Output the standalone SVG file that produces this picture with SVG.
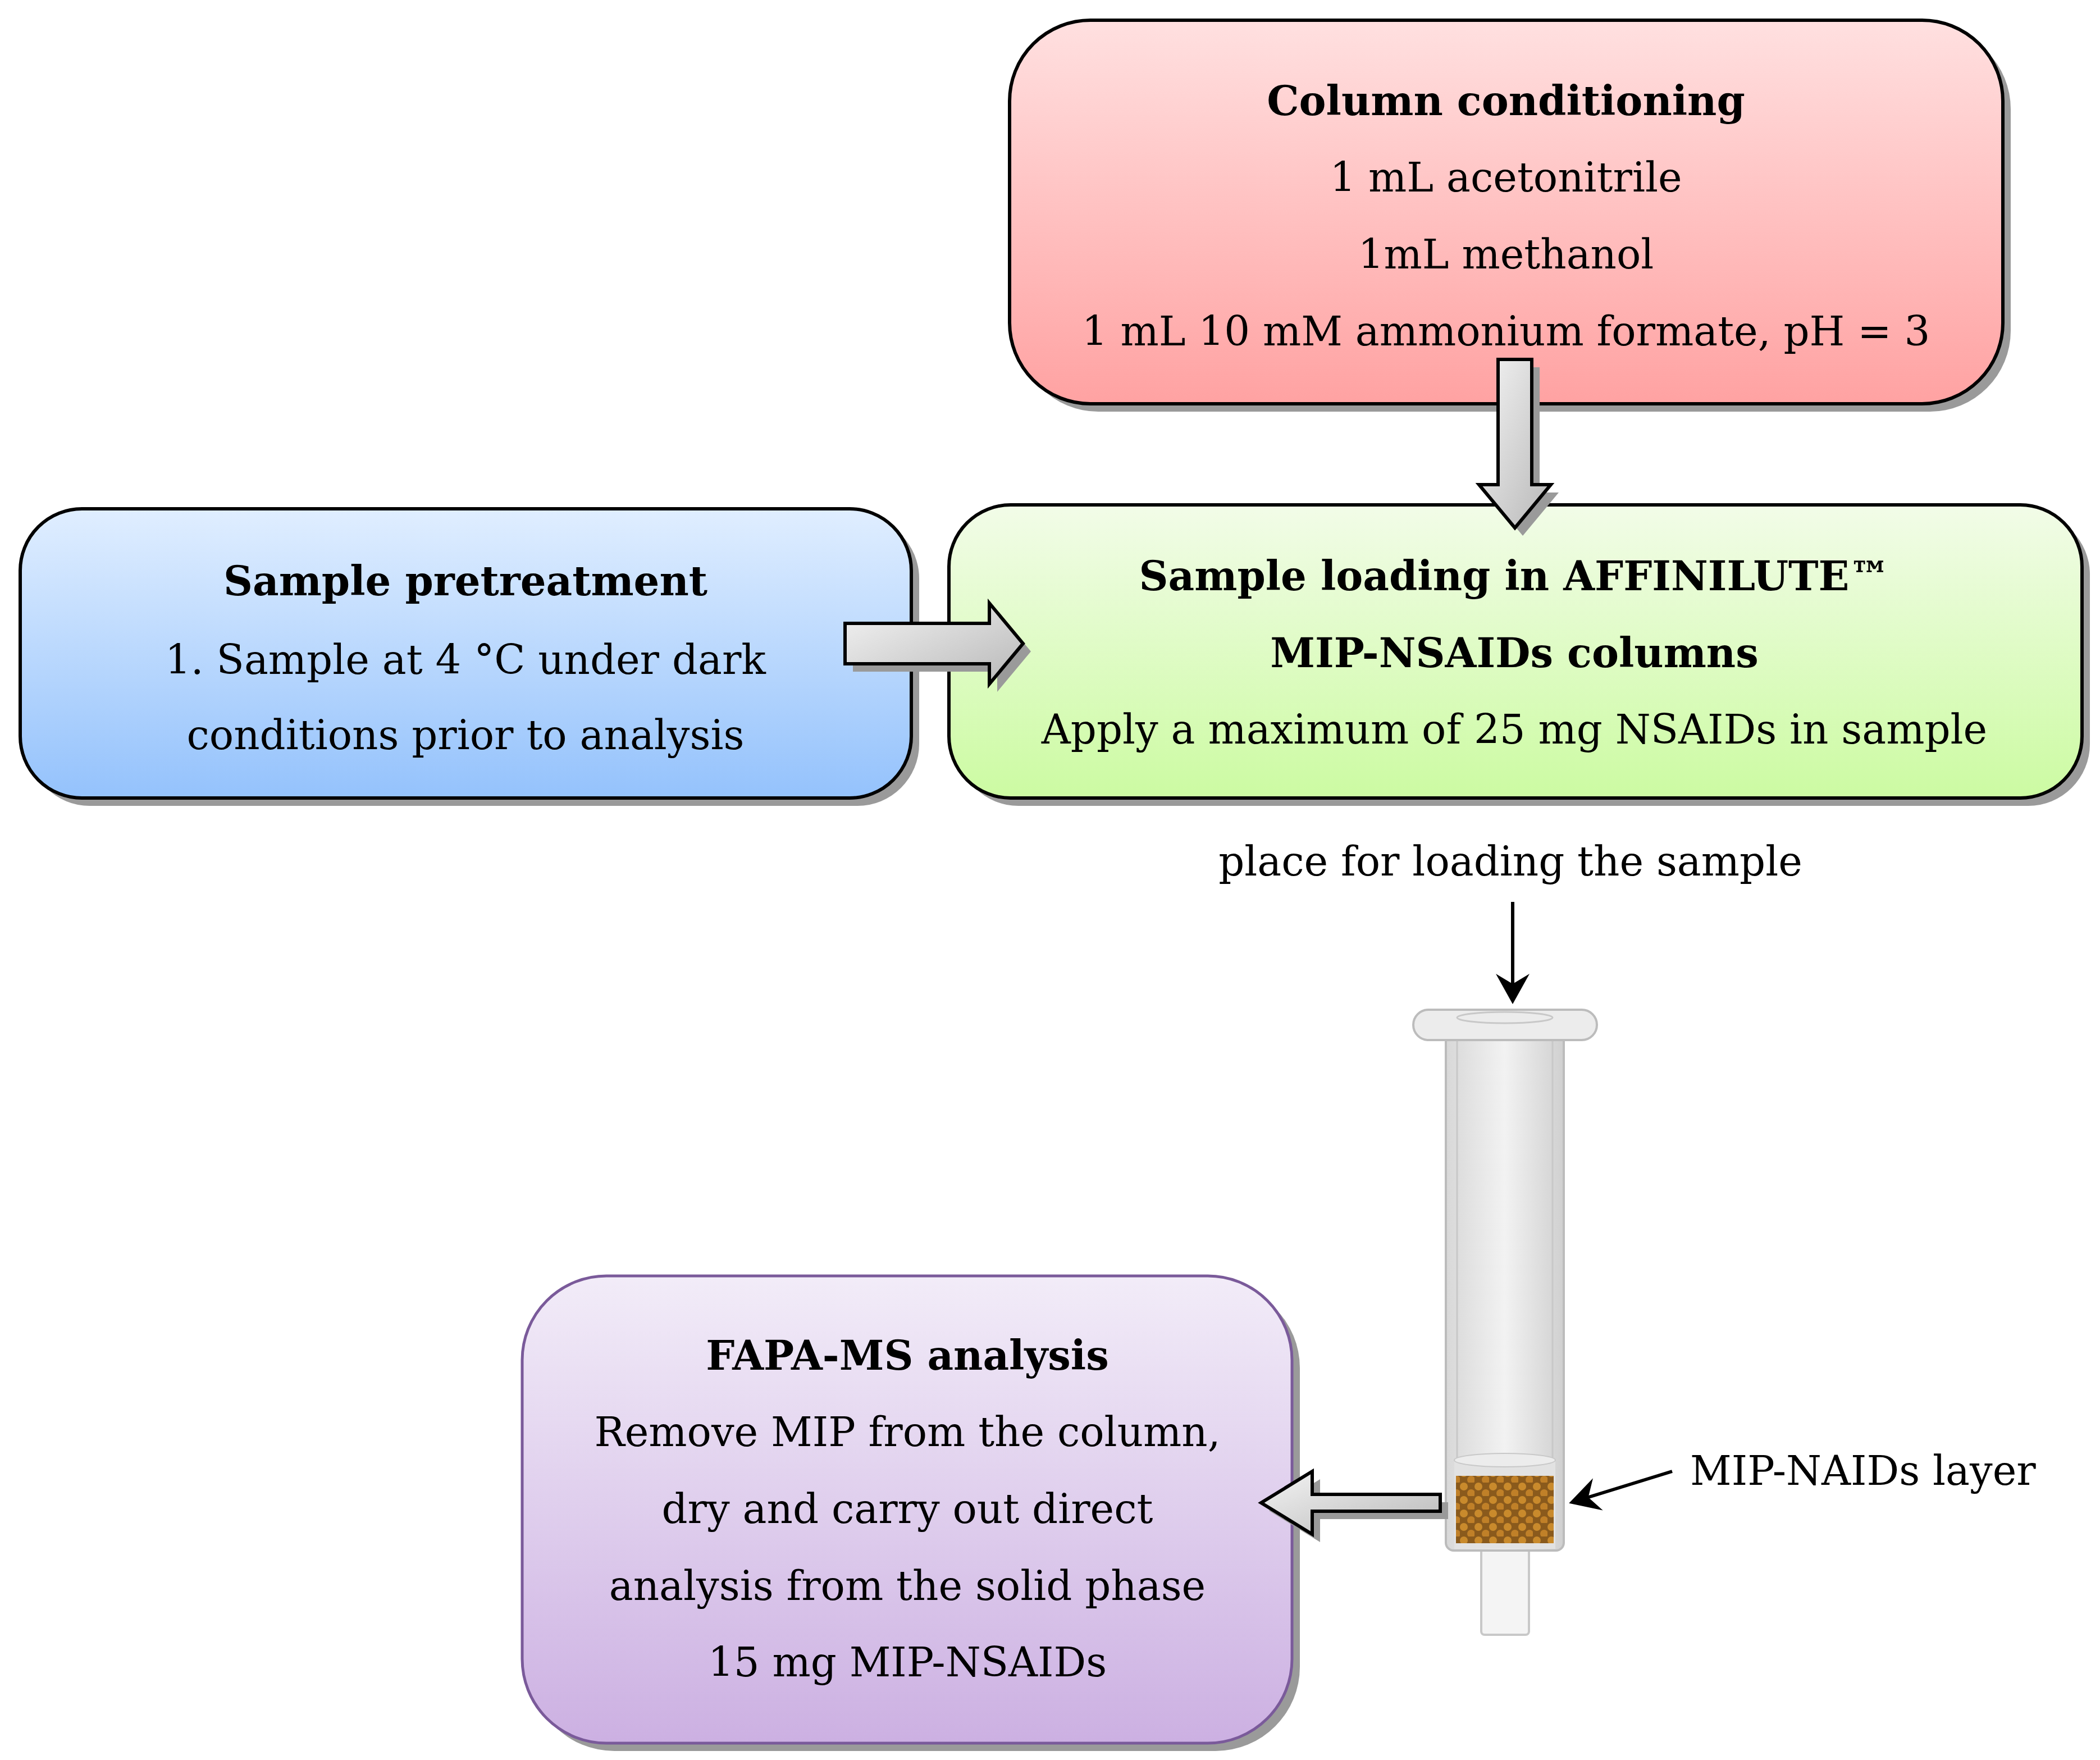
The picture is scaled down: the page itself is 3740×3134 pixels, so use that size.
<svg xmlns="http://www.w3.org/2000/svg" width="3740" height="3134" viewBox="0 0 3740 3134">
<style>
text{font-family:"DejaVu Serif","Liberation Serif",serif;font-size:72px;text-anchor:middle;fill:#000}
.b{font-weight:bold}
.box{stroke:#000;stroke-width:6}
.sh{fill:#9a9a9a}
.ar{fill:url(#ga);stroke:#000;stroke-width:6}
</style>
<defs>
<linearGradient id="gp" x1="0" y1="0" x2="0" y2="1"><stop offset="0" stop-color="#ffe0e0"/><stop offset="1" stop-color="#ffa2a2"/></linearGradient>
<linearGradient id="gb" x1="0" y1="0" x2="0" y2="1"><stop offset="0" stop-color="#e0eeff"/><stop offset="1" stop-color="#94c2fc"/></linearGradient>
<linearGradient id="gg" x1="0" y1="0" x2="0" y2="1"><stop offset="0" stop-color="#f2fce8"/><stop offset="1" stop-color="#ccfba2"/></linearGradient>
<linearGradient id="gv" x1="0" y1="0" x2="0" y2="1"><stop offset="0" stop-color="#f2ecf8"/><stop offset="1" stop-color="#ccb0e2"/></linearGradient>
<linearGradient id="ga" x1="0" y1="0" x2="1" y2="1"><stop offset="0" stop-color="#f4f4f4"/><stop offset="1" stop-color="#b8b8b8"/></linearGradient>
<linearGradient id="gt" x1="0" y1="0" x2="1" y2="0"><stop offset="0" stop-color="#d8d8d8"/><stop offset="0.5" stop-color="#f2f2f2"/><stop offset="1" stop-color="#d0d0d0"/></linearGradient>
<pattern id="beads" width="26" height="24" patternUnits="userSpaceOnUse"><rect width="26" height="24" fill="#8a5a1c"/><circle cx="7" cy="7" r="7" fill="#c98a2c"/><circle cx="20" cy="19" r="7" fill="#c08028"/></pattern>
<marker id="m" markerWidth="10" markerHeight="10" refX="8" refY="5" orient="auto" markerUnits="strokeWidth"><path d="M0,0 L9,5 L0,10 L3,5 Z" fill="#000"/></marker>
</defs>

<g id="column-conditioning">
<rect class="sh" x="1812" y="50" width="1769" height="683" rx="144"/>
<rect class="box" x="1798" y="36" width="1769" height="683" rx="144" fill="url(#gp)"/>
<text class="b" x="2682" y="205">Column conditioning</text>
<text x="2682" y="341">1 mL acetonitrile</text>
<text x="2682" y="478">1mL methanol</text>
<text x="2682" y="615">1 mL 10 mM ammonium formate, pH = 3</text>
</g>

<g id="sample-pretreatment">
<rect class="sh" x="50" y="920" width="1587" height="515" rx="110"/>
<rect class="box" x="36" y="906" width="1587" height="515" rx="110" fill="url(#gb)"/>
<text class="b" x="829" y="1060">Sample pretreatment</text>
<text x="829" y="1200">1. Sample at 4 °C under dark</text>
<text x="829" y="1334">conditions prior to analysis</text>
</g>

<g id="sample-loading">
<rect class="sh" x="1704" y="913" width="2018" height="522" rx="110"/>
<rect class="box" x="1690" y="899" width="2018" height="522" rx="110" fill="url(#gg)"/>
<text class="b" x="2697" y="1051">Sample loading in AFFINILUTE™</text>
<text class="b" x="2697" y="1188">MIP-NSAIDs columns</text>
<text x="2697" y="1324">Apply a maximum of 25 mg NSAIDs in sample</text>
</g>

<g id="fapa-ms">
<rect class="sh" x="944" y="2286" width="1371" height="832" rx="150"/>
<rect x="930" y="2272" width="1371" height="832" rx="150" fill="url(#gv)" stroke="#7a5a9a" stroke-width="5"/>
<text class="b" x="1616" y="2439">FAPA-MS analysis</text>
<text x="1616" y="2575">Remove MIP from the column,</text>
<text x="1616" y="2712">dry and carry out direct</text>
<text x="1616" y="2849">analysis from the solid phase</text>
<text x="1616" y="2985">15 mg MIP-NSAIDs</text>
</g>

<g id="spe-column">
<rect x="2638" y="2740" width="85" height="171" fill="#f4f4f4" stroke="#c8c8c8" stroke-width="4" rx="6"/>
<rect x="2575" y="1830" width="210" height="931" fill="url(#gt)" stroke="#bcbcbc" stroke-width="4" rx="14"/>
<line x1="2595" y1="1850" x2="2595" y2="2740" stroke="#c8c8c8" stroke-width="3"/>
<line x1="2765" y1="1850" x2="2765" y2="2740" stroke="#c8c8c8" stroke-width="3"/>
<rect x="2590" y="2600" width="180" height="158" fill="#e2e2e2"/>
<ellipse cx="2680" cy="2600" rx="90" ry="12" fill="#ececec" stroke="#c8c8c8" stroke-width="2"/>
<rect x="2593" y="2628" width="174" height="120" fill="url(#beads)"/>
<rect x="2517" y="1798" width="327" height="54" rx="27" fill="#ececec" stroke="#bcbcbc" stroke-width="4"/>
<ellipse cx="2680" cy="1812" rx="85" ry="10" fill="none" stroke="#c8c8c8" stroke-width="3"/>
</g>

<g id="connectors">
<path class="sh" d="M2682,654 h60 v223 h34 l-64,77 l-64,-77 h34 Z"/>
<path class="ar" d="M2668,640 h60 v223 h34 l-64,77 l-64,-77 h34 Z"/>
<path class="sh" d="M1519,1124 h257 v-36 l60,72 l-60,72 v-36 h-257 Z"/>
<path class="ar" d="M1505,1110 h257 v-36 l60,72 l-60,72 v-36 h-257 Z"/>
<path class="sh" d="M2579,2675 h-228 v-41 l-91,56 l91,56 v-41 h228 Z"/>
<path class="ar" d="M2565,2661 h-228 v-41 l-91,56 l91,56 v-41 h228 Z"/>
<line x1="2694" y1="1606" x2="2694" y2="1782" stroke="#000" stroke-width="6" marker-end="url(#m)"/>
<line x1="2978" y1="2620" x2="2800" y2="2675" stroke="#000" stroke-width="6" marker-end="url(#m)"/>
</g>

<text x="2690" y="1559">place for loading the sample</text>
<text x="3010" y="2644" style="text-anchor:start">MIP-NAIDs layer</text>
</svg>
